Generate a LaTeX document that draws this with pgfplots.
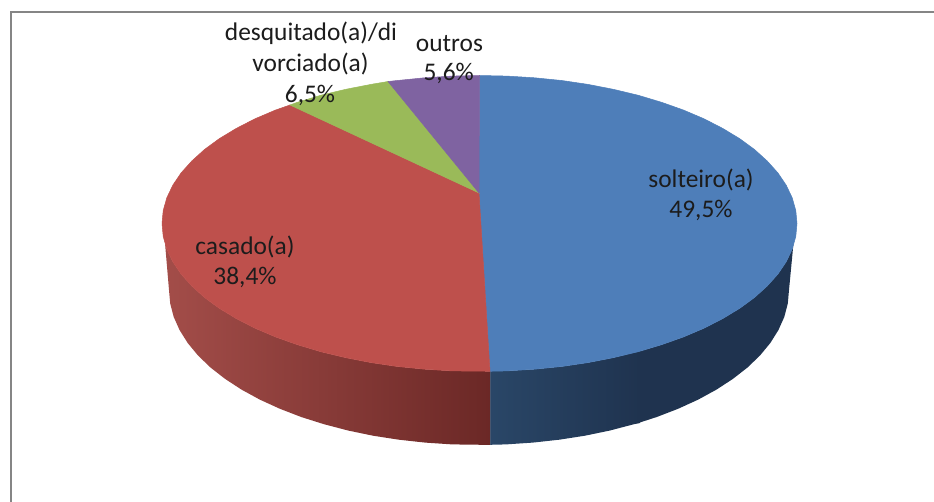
\documentclass[border=0pt]{standalone}
\usepackage{fontspec}
\setmainfont{Carlito}
\usepackage{pgfplots}
\pgfplotsset{compat=1.18}
\definecolor{cblue}{HTML}{4E7EB9}
\definecolor{cred}{HTML}{BE504C}
\definecolor{cgreen}{HTML}{9ABA59}
\definecolor{cpurple}{HTML}{7F63A1}
\definecolor{ctext}{HTML}{1C1C1C}
\definecolor{cframe}{HTML}{858585}
\begin{document}
\begin{tikzpicture}
\begin{axis}[
  scale only axis, width=934pt, height=502pt,
  xmin=0, xmax=934, ymin=0, ymax=502, y dir=reverse,
  hide axis, clip=true,
  every axis plot/.append style={no markers, draw=none, line width=0pt},
]
% page background
\addplot[fill=white] coordinates {(0,0)(934,0)(934,502)(0,502)} --cycle;
% side of the pie: blue
\addplot[fill=black!0, left color={rgb,255:red,42;green,71;blue,104}, right color={rgb,255:red,31;green,51;blue,79}] coordinates {
(486,371.3)(507.2,370.9)(534.6,369.2)(561.7,366.5)(588.1,362.6)(613.7,357.6)(640,351)
(640,423)(634,424.2)(610,430.5)(585,435.7)(559.2,439.7)(532.8,442.6)(506,444.4)(486,444.9)
} --cycle;
\addplot[fill={rgb,255:red,31;green,51;blue,79}] coordinates {
(638.3,351.7)(661.6,344.7)(683.6,336.9)(704,328.2)(722.7,318.6)(739.6,308.4)(754.5,297.5)(767.2,286)(777.9,274.1)(786.2,261.8)(792.2,249.2)(793.5,243)
(789,290)(787.8,303.5)(784.3,316.9)(778.4,330.1)(770.3,343)(760,355.5)(747.5,367.5)(732.9,378.9)(716.5,389.6)(698.2,399.6)(678.3,408.7)(656.8,417)(638.3,423)
} --cycle;
% side of the pie: red
\addplot[fill=black!0, left color={rgb,255:red,163;green,77;blue,73}, right color={rgb,255:red,107;green,40;blue,38}] coordinates {
(490,371.3)(451.8,370.9)(424.4,369.2)(397.3,366.5)(370.9,362.6)(345.3,357.6)(320.7,351.7)(297.4,344.7)(275.4,336.9)(255,328.2)(236.3,318.6)(219.4,308.4)(204.5,297.5)(191.8,286)(181.1,274.1)(172.8,261.8)(166.8,249.2)(165,243)
(169,290)(170.2,303.5)(173.7,316.9)(179.6,330.1)(187.7,343)(198,355.5)(210.5,367.5)(225.1,378.9)(241.5,389.6)(259.8,399.6)(279.7,408.7)(301.2,417)(324,424.2)(348,430.5)(373,435.7)(398.8,439.7)(425.2,442.6)(452,444.4)(490,444.9)
} --cycle;
% top: solteiro(a)
\addplot[fill=cblue, draw=cblue, line width=0.5pt] coordinates {
(479,193)(479.5,75.5)(507.2,76.1)(534.6,77.8)(561.7,80.5)(588.1,84.4)(613.7,89.4)(638.3,95.3)(661.6,102.3)(683.6,110.1)(704,118.8)(722.7,128.4)(739.6,138.6)(754.5,149.5)(767.2,161)(777.9,172.9)(786.2,185.2)(792.2,197.8)(795.8,210.6)(797,223.5)(795.8,236.4)(792.2,249.2)(786.2,261.8)(777.9,274.1)(767.2,286)(754.5,297.5)(739.6,308.4)(722.7,318.6)(704,328.2)(683.6,336.9)(661.6,344.7)(638.3,351.7)(613.7,357.6)(588.1,362.6)(561.7,366.5)(534.6,369.2)(507.2,370.9)(490,371.3)
} --cycle;
% top: casado(a)
\addplot[fill=cred, draw=cred, line width=0.5pt] coordinates {
(479,193)(490,371.3)(451.8,370.9)(424.4,369.2)(397.3,366.5)(370.9,362.6)(345.3,357.6)(320.7,351.7)(297.4,344.7)(275.4,336.9)(255,328.2)(236.3,318.6)(219.4,308.4)(204.5,297.5)(191.8,286)(181.1,274.1)(172.8,261.8)(166.8,249.2)(163.2,236.4)(162,223.5)(163.2,210.6)(166.8,197.8)(172.8,185.2)(181.1,172.9)(191.8,161)(204.5,149.5)(219.4,138.6)(236.3,128.4)(255,118.8)(275.4,110.1)(290,105)
} --cycle;
% top: desquitado(a)/divorciado(a)
\addplot[fill=cgreen, draw=cgreen, line width=0.5pt] coordinates {
(479,193)(290,105)(297.4,102.3)(320.7,95.3)(345.3,89.4)(370.9,84.4)(388,81.5)
} --cycle;
% top: outros
\addplot[fill=cpurple, draw=cpurple, line width=0.5pt] coordinates {
(479,193)(388,81.5)(397.3,80.5)(424.4,77.8)(451.8,76.1)(479.5,75.5)
} --cycle;
% frame
\addplot[draw=cframe, line width=2.2pt] coordinates {(934,12)(11,12)(11,502)};
% labels
\def\lab(#1,#2)#3{\node[anchor=base, inner sep=0pt, text=ctext, font=\fontsize{25.4}{30}\selectfont] at (axis cs:#1,#2) {#3};}
\lab(311,41){desquitado(a)/di}
\lab(310.5,72){vorciado(a)}
\lab(310,103){6,5\%}
\lab(449.5,52){outros}
\lab(448.7,81){5,6\%}
\lab(245,255){casado(a)}
\lab(245,285){38,4\%}
\lab(701,188){solteiro(a)}
\lab(701,218){49,5\%}
\end{axis}
\end{tikzpicture}
\end{document}
